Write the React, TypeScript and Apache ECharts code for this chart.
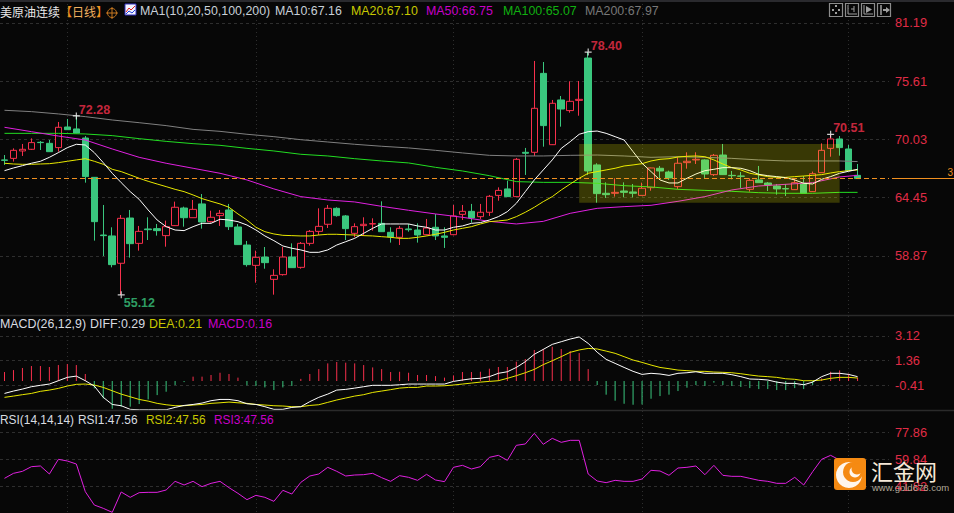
import React, { useEffect, useRef } from "react";
import * as echarts from "echarts";

const BG = "#070707";
const RED = "#f7304c";
const GREEN = "#3ac77e";
const AXIS_RED = "#e02c46";
const GRID = "#2e2e2e";
const FONT = "Liberation Sans";
const SLOTS = 99;

// [open, close, low, high]
const candles = [
  [68.06,68.02,67.58,68.53],[68.21,68.98,67.90,69.17],[68.92,69.08,68.44,69.59],[69.08,69.72,69.01,70.13],
  [69.75,69.72,69.01,69.87],[69.65,68.85,68.82,69.97],[69.24,71.19,68.85,71.70],[71.22,70.96,70.96,71.99],
  [71.03,70.64,70.61,72.28],[70.16,66.46,65.88,70.35],[66.39,62.14,60.32,66.39],[60.86,60.80,58.85,63.74],
  [60.77,58.02,57.76,61.60],[58.15,62.46,55.12,62.78],[62.49,60.03,58.69,63.26],[60.06,61.21,59.36,61.73],
  [61.44,61.37,60.38,62.56],[61.47,61.28,60.80,61.92],[60.80,61.66,59.74,62.24],[61.76,63.52,61.73,64.06],
  [63.45,62.52,61.66,63.58],[62.52,63.32,62.52,64.22],[63.84,62.11,61.47,64.79],[62.14,62.56,62.05,63.19],
  [62.72,62.94,61.73,63.26],[63.26,61.66,61.34,63.84],[61.63,59.94,59.90,61.92],[59.90,58.02,57.83,60.29],
  [57.95,58.72,56.29,59.36],[58.75,58.21,57.63,59.71],[56.61,56.99,55.14,57.57],[57.06,58.75,56.97,59.71],
  [58.75,57.73,57.73,60.06],[57.76,60.06,57.63,60.19],[60.06,61.21,59.84,61.34],[61.21,61.69,60.86,63.42],
  [61.89,63.42,61.53,63.74],[63.42,62.72,62.62,63.52],[62.69,61.47,60.38,62.78],[61.02,61.66,60.64,61.98],
  [61.76,61.89,60.77,62.56],[61.92,61.95,61.28,62.46],[61.98,61.18,61.15,64.09],[61.12,60.67,60.13,61.60],
  [60.64,61.50,59.90,61.73],[61.44,61.37,61.18,61.92],[61.34,60.86,60.13,61.98],[60.89,61.53,60.83,62.40],
  [61.60,60.77,60.38,62.88],[60.77,60.64,59.62,61.60],[60.89,62.69,60.83,63.74],[62.84,63.13,62.30,63.74],
  [63.13,62.49,62.05,63.84],[62.62,63.04,62.40,63.84],[63.04,64.57,62.69,64.70],[64.66,65.14,64.15,65.43],
  [65.28,64.54,64.54,66.07],[64.54,68.12,64.54,68.25],[68.79,68.70,66.62,69.21],[68.79,73.01,68.44,77.55],
  [76.36,71.35,69.33,77.45],[69.52,73.49,69.49,73.81],[73.81,72.94,71.25,74.19],[72.79,73.68,72.59,75.60],
  [73.77,73.87,72.30,75.63],[77.83,67.00,66.62,78.40],[67.58,64.83,63.96,67.74],[64.86,64.73,64.41,65.91],
  [64.86,64.95,64.54,66.30],[65.08,64.95,64.47,65.91],[64.99,64.86,64.47,65.75],[64.66,65.34,64.66,65.88],
  [65.40,67.29,65.11,67.32],[67.26,67.00,66.14,67.48],[66.90,66.33,66.14,67.03],[65.50,67.74,65.28,68.31],
  [67.80,67.93,67.22,68.79],[68.06,68.12,67.67,68.79],[68.06,66.71,66.33,68.12],[66.65,68.50,66.52,68.63],
  [68.53,66.65,66.62,69.59],[66.58,66.55,66.20,67.00],[66.52,66.49,65.37,66.90],[65.24,66.10,65.02,66.30],
  [66.14,65.88,65.88,67.48],[65.85,65.66,65.08,65.94],[65.56,65.28,64.73,65.75],[65.31,65.28,64.60,65.75],
  [65.21,65.88,65.18,66.30],[65.82,64.86,64.86,66.52],[65.02,66.74,64.99,66.94],[66.84,68.98,66.81,69.65],
  [69.17,70.07,68.37,70.51],[70.07,69.24,68.47,70.35],[69.11,67.03,67.03,69.49],[66.58,66.27,66.27,67.67],
];

const ma10 = [
  67.03,67.29,67.51,67.74,67.93,68.31,68.76,69.24,69.56,69.49,68.76,67.80,66.78,65.88,65.02,64.28,63.26,62.30,61.66,61.34,
  61.28,61.66,61.98,61.98,62.37,62.30,62.14,61.82,61.34,60.77,60.32,59.81,59.59,59.43,59.20,59.20,59.43,59.90,60.22,60.54,
  61.02,61.50,61.92,61.92,61.92,61.92,61.73,61.60,61.34,61.34,61.60,61.73,61.98,62.05,62.30,62.62,63.10,63.90,65.02,66.14,
  67.10,68.06,69.17,69.81,70.52,70.77,70.83,70.61,70.29,69.97,68.85,67.74,66.94,66.14,65.85,65.85,66.30,66.71,67.03,67.16,
  67.32,67.32,67.26,67.03,66.68,66.55,66.46,66.36,66.14,65.82,65.75,66.20,66.46,66.78,66.97,67.16,
];
const ma20 = [
  67.74,67.67,67.64,67.64,67.67,67.70,67.80,67.93,68.06,68.18,67.93,67.64,67.16,66.94,66.62,66.30,66.01,65.75,65.50,65.24,
  65.02,64.70,64.35,64.09,63.84,63.52,62.88,62.30,61.60,61.18,60.96,60.83,60.80,60.77,60.77,60.86,60.93,60.93,60.89,60.86,
  60.80,60.77,60.70,60.64,60.54,60.54,60.64,60.77,60.93,61.12,61.34,61.50,61.66,61.92,62.14,62.21,62.30,62.62,63.04,63.52,
  64.06,64.54,65.18,65.75,66.30,66.78,66.94,67.10,67.26,67.48,67.58,67.70,67.96,68.12,68.18,68.34,68.41,68.44,68.37,68.06,
  67.67,67.32,67.10,66.78,66.62,66.46,66.39,66.39,66.46,66.52,66.58,66.65,66.81,66.94,67.03,67.10,
];
// The three slow averages are read every third candle.
const slowIndex = [0,3,6,9,12,15,18,21,24,27,30,33,36,39,42,45,48,51,54,57,60,63,66,69,72,75,78,81,84,87,90,93,95];
const ma50 = [71.19,70.77,70.35,69.97,69.11,68.31,67.74,67.26,66.78,66.14,65.28,64.54,64.22,64.03,63.61,63.23,62.88,62.56,62.17,61.92,62.17,62.94,63.42,63.58,63.71,64.09,64.54,65.18,65.56,65.72,65.88,66.43,66.58];
const ma100 = [70.61,70.61,70.61,70.55,70.39,70.10,69.84,69.62,69.46,69.17,68.92,68.60,68.44,68.18,67.96,67.77,67.35,67.00,66.55,65.98,65.91,65.91,65.82,65.59,65.47,65.24,65.14,65.05,64.92,64.86,64.86,64.95,64.95];
const ma200 = [72.82,72.69,72.47,72.21,71.89,71.63,71.35,70.99,70.80,70.52,70.29,70.00,69.78,69.56,69.37,69.21,68.98,68.73,68.50,68.44,68.44,68.50,68.53,68.44,68.31,68.37,68.31,68.21,68.06,67.96,67.96,67.96,67.90];

const extremes = [
  { i: 8, v: 72.28, color: RED, up: true },
  { i: 13, v: 55.12, color: GREEN, up: false },
  { i: 65, v: 78.4, color: RED, up: true },
  { i: 92, v: 70.51, color: RED, up: true },
];
const lastPrice = 66.3;
const zone = { from: 64, to: 93, top: 69.59, bottom: 63.96 };

const macdHist = [
  0.54,0.68,0.83,0.97,0.97,0.90,1.04,1.11,1.04,0.40,-0.63,-1.35,-2.09,-1.94,-1.94,-1.75,-1.42,-1.11,-0.87,-0.39,
  -0.18,0.21,0.21,0.33,0.49,0.40,0.14,-0.41,-0.46,-0.56,-0.75,-0.56,-0.46,0.05,0.40,0.75,1.16,1.26,1.21,1.16,
  1.04,0.87,0.75,0.54,0.56,0.49,0.33,0.33,0.25,0.14,0.30,0.54,0.54,0.56,0.78,0.90,0.90,1.28,1.47,2.12,
  2.19,2.35,2.19,2.04,1.90,0.75,-0.39,-1.08,-1.51,-1.73,-1.80,-1.78,-1.37,-1.18,-1.08,-0.82,-0.58,-0.39,-0.46,-0.22,
  -0.39,-0.46,-0.53,-0.61,-0.68,-0.68,-0.75,-0.75,-0.61,-0.68,-0.39,0.09,0.56,0.66,0.42,0.14,
];
const diff = [
  -0.99,-0.82,-0.68,-0.51,-0.41,-0.32,-0.08,0.16,0.25,-0.08,-0.46,-1.27,-1.78,-1.87,-2.13,-2.16,-2.16,-2.16,-2.16,-1.99,
  -1.85,-1.78,-1.68,-1.51,-1.42,-1.42,-1.51,-1.73,-1.78,-1.94,-2.13,-2.13,-1.99,-1.94,-1.58,-1.27,-1.04,-0.75,-0.70,-0.61,
  -0.51,-0.41,-0.41,-0.41,-0.37,-0.32,-0.32,-0.32,-0.32,-0.32,-0.13,-0.03,0.06,0.09,0.21,0.45,0.56,0.87,1.28,1.81,
  2.16,2.52,2.71,2.90,3.05,2.59,1.96,1.45,1.16,0.87,0.59,0.37,0.45,0.40,0.30,0.45,0.49,0.56,0.45,0.45,
  0.45,0.35,0.21,0.04,0.02,-0.03,-0.18,-0.27,-0.27,-0.37,-0.18,0.21,0.45,0.45,0.37,0.21,
];
const dea = [
  -1.27,-1.18,-1.08,-0.99,-0.84,-0.75,-0.63,-0.46,-0.34,-0.32,-0.39,-0.56,-0.80,-1.04,-1.23,-1.42,-1.54,-1.70,-1.80,-1.87,
  -1.87,-1.82,-1.78,-1.70,-1.66,-1.61,-1.66,-1.70,-1.78,-1.82,-1.87,-1.89,-1.94,-1.94,-1.85,-1.80,-1.63,-1.46,-1.32,-1.18,
  -1.08,-0.92,-0.82,-0.72,-0.61,-0.56,-0.56,-0.46,-0.46,-0.44,-0.39,-0.32,-0.25,-0.18,-0.13,-0.08,0.09,0.28,0.49,0.73,
  1.07,1.35,1.64,1.95,2.12,2.23,2.19,2.04,1.88,1.64,1.40,1.23,1.04,0.87,0.78,0.68,0.64,0.59,0.59,0.54,
  0.52,0.49,0.42,0.33,0.25,0.21,0.16,0.06,0.02,-0.08,-0.08,-0.03,0.09,0.16,0.16,0.11,
];
const rsi = [
  47.35,50.67,52.00,55.09,55.53,50.23,59.95,58.84,56.85,38.52,29.68,27.47,24.82,38.30,34.76,37.86,38.08,38.08,39.62,45.37,
  42.94,45.37,41.83,44.04,45.37,41.17,37.41,33.22,36.09,34.76,32.11,39.40,36.97,44.70,48.90,50.23,54.65,52.00,48.90,49.56,
  49.78,50.67,47.80,45.37,49.12,48.02,46.03,50.01,46.25,45.15,54.65,55.97,53.54,55.09,61.27,62.60,59.28,69.22,70.11,77.18,
  69.89,73.86,71.21,72.54,72.54,50.23,45.59,44.48,46.03,45.37,45.37,46.91,52.66,52.22,49.34,54.20,54.65,55.53,49.78,55.97,
  49.34,48.68,48.68,47.35,46.03,45.37,44.04,44.04,48.02,42.94,51.77,59.95,62.60,59.50,53.00,47.56,
];

const priceTicks = [81.19, 75.61, 70.03, 64.45, 58.87];
const macdTicks = [3.12, 1.36, -0.41];
const rsiTicks = [77.86, 59.84, 41.82];
const verticalGrid = [7, 28, 50, 71, 94];

const headerMain = [
  { text: "MA1(10,20,50,100,200)", x: 140, fill: "#c8d0d8" },
  { text: "MA10:67.16", x: 275, fill: "#c8d0d8" },
  { text: "MA20:67.10", x: 351, fill: "#c8c800" },
  { text: "MA50:66.75", x: 426, fill: "#c800c8" },
  { text: "MA100:65.07", x: 503, fill: "#10b010" },
  { text: "MA200:67.97", x: 585, fill: "#787878" },
];
const headerMacd = [
  { text: "MACD(26,12,9)", x: 0, fill: "#d8dce0" },
  { text: "DIFF:0.29", x: 90, fill: "#d8dce0" },
  { text: "DEA:0.21", x: 149, fill: "#c8c800" },
  { text: "MACD:0.16", x: 208, fill: "#c800c8" },
];
const headerRsi = [
  { text: "RSI(14,14,14)", x: 0, fill: "#d8dce0" },
  { text: "RSI1:47.56", x: 78, fill: "#d8dce0" },
  { text: "RSI2:47.56", x: 146, fill: "#c8c800" },
  { text: "RSI3:47.56", x: 214, fill: "#c800c8" },
];

const categories = Array.from({ length: SLOTS }, (_, i) => String(i));
const pairs = (values: number[]) => values.map((v, k) => [slowIndex[k], v]);

const xAxisFor = (gridIndex: number) => ({
  type: "category",
  gridIndex,
  data: categories,
  boundaryGap: true,
  axisLine: { show: false },
  axisTick: { show: false },
  axisLabel: { show: false },
  splitLine: {
    show: true,
    alignWithLabel: true,
    interval: (i: number) => verticalGrid.includes(i),
    lineStyle: { color: GRID, type: [1, 3], width: 1 },
  },
});
const yAxisFor = (gridIndex: number, min: number, max: number, ticks: number[]) => ({
  type: "value",
  gridIndex,
  position: "right",
  min,
  max,
  scale: true,
  axisLine: { show: false },
  axisTick: { show: false, customValues: ticks },
  axisLabel: {
    customValues: ticks,
    color: AXIS_RED,
    fontFamily: FONT,
    fontSize: 12.8,
    margin: 6,
    formatter: (v: number) => v.toFixed(2),
  },
  splitLine: { show: true, lineStyle: { color: GRID, type: [3, 3], width: 1 } },
});
const thinLine = (name: string, data: any, color: string, xAxisIndex: number) => ({
  name,
  type: "line",
  data,
  xAxisIndex,
  yAxisIndex: xAxisIndex,
  showSymbol: false,
  symbol: "none",
  silent: true,
  lineStyle: { color, width: 1 },
  z: 5,
});
const headerText = (items: { text: string; x: number; fill: string }[], y: number, size = 12.4) =>
  items.map((t) => ({
    type: "text",
    x: t.x,
    y,
    z: 30,
    silent: true,
    style: { text: t.text, fill: t.fill, font: `${size}px ${FONT}`, textVerticalAlign: "middle" },
  }));
const iconBox = (x: number) => ({
  type: "rect",
  z: 30,
  silent: true,
  shape: { x: x + 0.5, y: 3.5, width: 13, height: 13 },
  style: { fill: "transparent", stroke: "#8c8c8c", lineWidth: 1.2 },
});
const seg = (x1: number, y1: number, x2: number, y2: number, stroke: string, lineWidth = 1) => ({
  type: "line",
  z: 30,
  silent: true,
  shape: { x1, y1, x2, y2 },
  style: { stroke, lineWidth },
});

function buildOption() {
  return {
    animation: false,
    backgroundColor: BG,
    grid: [
      { left: -2, top: 0, width: 891, height: 315 },
      { left: -2, top: 316, width: 891, height: 94 },
      { left: -2, top: 411, width: 891, height: 102 },
    ],
    xAxis: [xAxisFor(0), xAxisFor(1), xAxisFor(2)],
    yAxis: [
      yAxisFor(0, 53.19, 83.395, priceTicks),
      yAxisFor(1, -2.176, 4.55, macdTicks),
      yAxisFor(2, 24.38, 91.98, rsiTicks),
    ],
    series: [
      {
        name: "K",
        type: "candlestick",
        data: candles,
        barWidth: 7,
        silent: true,
        itemStyle: { color: BG, color0: GREEN, borderColor: RED, borderColor0: GREEN, borderWidth: 1 },
        z: 3,
      },
      thinLine("MA200", pairs(ma200), "#808080", 0),
      thinLine("MA100", pairs(ma100), "#22dd22", 0),
      thinLine("MA50", pairs(ma50), "#e020e0", 0),
      thinLine("MA20", ma20, "#e8e800", 0),
      thinLine("MA10", ma10, "#ffffff", 0),
      {
        name: "zone",
        type: "line",
        data: [],
        silent: true,
        z: 10,
        markArea: {
          silent: true,
          z: 10,
          itemStyle: { color: "rgba(255,255,0,0.2)", borderWidth: 0 },
          data: [[{ coord: [zone.from, zone.top] }, { coord: [zone.to, zone.bottom] }]],
        },
      },
      {
        name: "last",
        type: "line",
        data: [],
        silent: true,
        z: 12,
        markLine: {
          silent: true,
          symbol: "none",
          label: { show: false },
          z: 12,
          lineStyle: { color: "#f09020", type: [5, 3], width: 1 },
          data: [{ yAxis: lastPrice }],
        },
      },
      {
        name: "extremes",
        type: "scatter",
        silent: true,
        z: 20,
        symbol: "path://M-3,-0.5H3V0.5H-3Z M-0.5,-3H0.5V3H-0.5Z",
        symbolSize: 7,
        itemStyle: { color: "#ffffff" },
        data: extremes.map((e) => ({
          value: [e.i, e.v],
          label: {
            show: true,
            position: "right",
            distance: -1,
            offset: [0, e.up ? -6 : 8],
            color: e.color,
            fontFamily: FONT,
            fontWeight: "bold",
            fontSize: 12.5,
            formatter: () => e.v.toFixed(2),
          },
        })),
      },
      {
        name: "MACD",
        type: "custom",
        xAxisIndex: 1,
        yAxisIndex: 1,
        data: macdHist.map((v, i) => [i, v]),
        silent: true,
        z: 3,
        renderItem: (_p: any, api: any) => {
          const i = api.value(0);
          const v = api.value(1);
          const a = api.coord([i, 0]);
          const b = api.coord([i, v]);
          return {
            type: "line",
            shape: { x1: a[0], y1: Math.round(a[1]) + 1, x2: b[0], y2: b[1] },
            style: { stroke: v >= 0 ? RED : GREEN, lineWidth: 1 },
          };
        },
      },
      thinLine("DEA", dea, "#e8e800", 1),
      thinLine("DIFF", diff, "#ffffff", 1),
      thinLine("RSI", rsi, "#e020e0", 2),
    ],
    graphic: [
      { type: "rect", z: 30, silent: true, shape: { x: 0, y: 0, width: 954, height: 2 }, style: { fill: "#2a2a2e" } },
      seg(0, 315.5, 954, 315.5, "#2a2a2a", 1.5),
      seg(0, 410.5, 954, 410.5, "#2a2a2a", 1.5),
      seg(892, 178.5, 954, 178.5, "#f09020", 1),
      { type: "text", x: 947.5, y: 172, z: 30, silent: true, style: { text: "3", fill: "#f09020", font: `10px ${FONT}`, textVerticalAlign: "middle" } },
      { type: "text", x: 0, y: 11, z: 30, silent: true, style: { text: "美原油连续", fill: "#e8e8e8", font: "12px 'Noto Sans CJK SC'", textVerticalAlign: "middle" } },
      { type: "text", x: 60, y: 11, z: 30, silent: true, style: { text: "【", fill: "#f09020", font: "12px 'Noto Sans CJK SC'", textVerticalAlign: "middle" } },
      { type: "text", x: 72, y: 11, z: 30, silent: true, style: { text: "日线", fill: "#f0b060", font: "12px 'Noto Sans CJK SC'", textVerticalAlign: "middle" } },
      { type: "text", x: 96, y: 11, z: 30, silent: true, style: { text: "】", fill: "#f09020", font: "12px 'Noto Sans CJK SC'", textVerticalAlign: "middle" } },
      { type: "circle", z: 30, silent: true, shape: { cx: 112, cy: 13, r: 4.5 }, style: { fill: "transparent", stroke: "#c87820", lineWidth: 1 } },
      seg(106, 13, 118, 13, "#c87820"),
      seg(112, 7, 112, 19, "#c87820"),
      { type: "rect", z: 30, silent: true, shape: { x: 125, y: 4, width: 11, height: 11 }, style: { fill: "#f4f4ff", stroke: "#3030c0", lineWidth: 1 } },
      { type: "polyline", z: 31, silent: true, shape: { points: [[126, 12], [129, 8], [131, 10], [135, 6]] }, style: { stroke: "#e02020", fill: "none", lineWidth: 1 } },
      { type: "polyline", z: 31, silent: true, shape: { points: [[126, 14], [129, 11], [132, 13], [135, 10]] }, style: { stroke: "#2040e0", fill: "none", lineWidth: 1 } },
      ...headerText(headerMain, 11),
      ...headerText(headerMacd, 324),
      ...headerText(headerRsi, 420, 11.9),
      iconBox(829),
      seg(832, 10, 834, 10, "#a0a0a0", 2),
      seg(838, 10, 840, 10, "#a0a0a0", 2),
      seg(836, 5, 836, 7, "#a0a0a0", 2),
      seg(836, 12, 836, 14, "#a0a0a0", 2),
      iconBox(845),
      seg(848, 5, 848, 14, "#a0a0a0"),
      seg(848, 14, 857, 14, "#a0a0a0"),
      seg(854, 6, 854, 12, "#a0a0a0"),
      seg(851, 9, 854, 9, "#a0a0a0"),
      iconBox(861),
      seg(864, 5, 864, 14, "#a0a0a0"),
      seg(864, 14, 873, 14, "#a0a0a0"),
      { type: "polygon", z: 30, silent: true, shape: { points: [[866, 6], [866, 13], [872, 9.5]] }, style: { fill: "#a0a0a0" } },
      iconBox(877),
      seg(881, 5, 881, 15, "#a0a0a0", 1.5),
      seg(883, 10, 888, 10, "#a0a0a0", 2),
      { type: "polygon", z: 30, silent: true, shape: { points: [[886, 7], [886, 13], [890, 10]] }, style: { fill: "#a0a0a0" } },
      { type: "rect", z: 40, silent: true, shape: { x: 834, y: 458, width: 32, height: 32, r: 3 }, style: { fill: "#f58a12" } },
      { type: "circle", z: 41, silent: true, shape: { cx: 849, cy: 475, r: 13 }, style: { fill: "#fff6ec" } },
      { type: "circle", z: 42, silent: true, shape: { cx: 853, cy: 472, r: 10 }, style: { fill: "#f58a12" } },
      { type: "circle", z: 43, silent: true, shape: { cx: 855, cy: 472, r: 5.5 }, style: { fill: "#fff6ec" } },
      { type: "circle", z: 44, silent: true, shape: { cx: 857, cy: 469, r: 5.5 }, style: { fill: "#f58a12" } },
      { type: "text", x: 871, y: 470, z: 40, silent: true, style: { text: "汇金网", fill: "#f6e9d8", font: "22px 'Noto Sans CJK SC'", textVerticalAlign: "middle" } },
      { type: "text", x: 872, y: 487, z: 40, silent: true, style: { text: "www.gold678.com", fill: "#b0a898", font: `9.5px ${FONT}`, textVerticalAlign: "middle" } },
    ],
  };
}

export default function App() {
  const ref = useRef<HTMLDivElement>(null);
  useEffect(() => {
    document.body.style.margin = "0";
    document.body.style.background = BG;
    const chart = echarts.init(ref.current!, null, { renderer: "svg" });
    chart.setOption(buildOption() as any);
    return () => chart.dispose();
  }, []);
  return <div ref={ref} style={{ width: 954, height: 513, overflow: "hidden" }} />;
}
